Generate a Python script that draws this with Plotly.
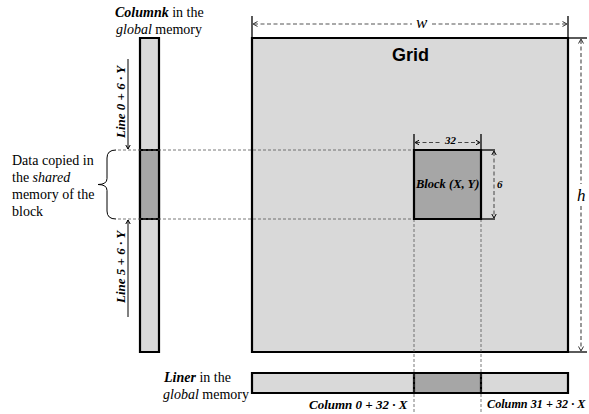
import plotly.graph_objects as go

# ---- diagram geometry (pixel space: x right, y down) ----
grid_box = [252, 38, 568, 352]          # x0, y0, x1, y1
block_box = [414, 150, 481, 219]
column_bar = [140, 38, 159, 352]
row_bar = [252, 373, 568, 393]

grid_fill = "#d9d9d9"
block_fill = "#a6a6a6"

# ---- texts ----
grid_label = "Grid"
block_label = "<b><i>Block (X, Y)</i></b>"
width_label = "w"
height_label = "h"
block_w_label = "32"
block_h_label = "6"
column_title = ["<b><i>Columnk</i></b> in the", "<i>global</i> memory"]
row_title = ["<b><i>Liner</i></b> in the", "<i>global</i> memory"]
shared_text = ["Data copied in", "the <i>shared</i>", "memory of the", "block"]
line_first = "<b><i>Line 0 + 6 · Y</i></b>"
line_last = "<b><i>Line 5 + 6 · Y</i></b>"
col_first = "<b><i>Column 0 + 32 · X</i></b>"
col_last = "<b><i>Column 31 + 32 · X</i></b>"

SERIF = "Liberation Serif"
shapes = []
annotations = []


def rect(b, fill, width=2.2):
    shapes.append(dict(type="rect", x0=b[0], y0=b[1], x1=b[2], y1=b[3],
                       fillcolor=fill, line=dict(color="black", width=width), layer="above"))


def line(x0, y0, x1, y1, color="black", width=1, dash="solid"):
    shapes.append(dict(type="line", x0=x0, y0=y0, x1=x1, y1=y1,
                       line=dict(color=color, width=width, dash=dash), layer="above"))


def head(x, y, d, s=4.5, color="black"):
    w = s * 0.55
    if d == "right":
        p = f"M {x-s},{y-w} L {x},{y} L {x-s},{y+w}"
    elif d == "left":
        p = f"M {x+s},{y-w} L {x},{y} L {x+s},{y+w}"
    elif d == "down":
        p = f"M {x-w},{y-s} L {x},{y} L {x+w},{y-s}"
    else:
        p = f"M {x-w},{y+s} L {x},{y} L {x+w},{y+s}"
    shapes.append(dict(type="path", path=p, line=dict(color=color, width=1), layer="above"))


def text(x, y, t, size=14, family=SERIF, xanchor="center", angle=0, color="black"):
    annotations.append(dict(x=x, y=y, text=t, showarrow=False, xanchor=xanchor,
                            yanchor="middle", textangle=angle, borderpad=0,
                            font=dict(family=family, size=size, color=color)))


# main rectangles
rect(grid_box, grid_fill)
rect(column_bar, grid_fill)
rect(row_bar, grid_fill)
# dark segments
rect([column_bar[0], block_box[1], column_bar[2], block_box[3]], block_fill)
rect([block_box[0], row_bar[1], block_box[2], row_bar[3]], block_fill)

# guide dashed lines (projection of block)
gcol = "#555555"
GD = "3px,2px"
for yy in (block_box[1], block_box[3]):
    line(118, yy, block_box[0], yy, color=gcol, width=0.8, dash=GD)
for xx in (block_box[0], block_box[2]):
    line(xx, block_box[3], xx, 414, color=gcol, width=0.8, dash=GD)

rect(block_box, block_fill)

DD = "4px,2.5px"
# w dimension
line(grid_box[0], 16, grid_box[0], grid_box[1], width=1.3)
line(grid_box[2], 16, grid_box[2], grid_box[1], width=1.3)
line(grid_box[0] + 2, 24, 412, 24, color="#555", width=1.2, dash=DD)
line(432, 24, grid_box[2] - 2, 24, color="#555", width=1.2, dash=DD)
head(grid_box[0] + 1, 24, "left", color="#333")
head(grid_box[2] - 1, 24, "right", color="#333")
text(422, 22, f"<i>{width_label}</i>", size=17)

# h dimension
line(grid_box[2], grid_box[1], 587, grid_box[1], width=1.3)
line(grid_box[2], grid_box[3], 587, grid_box[3], width=1.3)
line(581, grid_box[1] + 2, 581, 184, color="#555", width=1.2, dash=DD)
line(581, 206, 581, grid_box[3] - 2, color="#555", width=1.2, dash=DD)
head(581, grid_box[1] + 1, "up", color="#333")
head(581, grid_box[3] - 1, "down", color="#333")
text(581, 195, f"<i>{height_label}</i>", size=17)

# block dimensions
line(block_box[0], 134, block_box[0], block_box[1], width=1.3)
line(block_box[2], 134, block_box[2], block_box[1], width=1.3)
line(block_box[0] + 2, 142.5, 442, 142.5, color="#444", width=1, dash=DD)
line(458, 142.5, block_box[2] - 2, 142.5, color="#444", width=1, dash=DD)
head(block_box[0] + 1, 142.5, "left", s=4)
head(block_box[2] - 1, 142.5, "right", s=4)
text(450, 140, f"<b><i>{block_w_label}</i></b>", size=11)

line(block_box[2], block_box[1], 495, block_box[1], width=1.3)
line(block_box[2], block_box[3], 495, block_box[3], width=1.3)
line(494, block_box[1] + 2, 494, block_box[3] - 2, color="#444", width=1, dash=DD)
head(494, block_box[1] + 1, "up", s=4)
head(494, block_box[3] - 1, "down", s=4)
text(496, 184, f"<b><i>{block_h_label}</i></b>", size=11, xanchor="left")

# labels
text(410, 55, f"<b>{grid_label}</b>", size=18, family="Liberation Sans")
text(447, 184, block_label, size=12.5)

text(159, 12, column_title[0], size=14)
text(159, 29, column_title[1], size=14)

text(162, 377, row_title[0], size=14, xanchor="left")
text(162, 394, row_title[1], size=14, xanchor="left")

for i, t in enumerate(shared_text):
    text(11, 160 + i * 17, t, size=14, xanchor="left")

# brace
bx, by0, by1 = 107, block_box[1], block_box[3]
ym = (by0 + by1) / 2
brace = (f"M 116,{by0} Q {bx},{by0} {bx},{by0+8} L {bx},{ym-6} "
         f"Q {bx},{ym} {bx-9},{ym} Q {bx},{ym} {bx},{ym+6} "
         f"L {bx},{by1-8} Q {bx},{by1} 116,{by1}")
shapes.append(dict(type="path", path=brace, line=dict(color="black", width=1), layer="above"))

# line arrows
line(128, 59, 128, block_box[1] - 1)
head(128, block_box[1] - 1, "down", s=4)
line(128, 317, 128, block_box[3] + 1)
head(128, block_box[3] + 1, "up", s=4)
text(120, 102, line_first, size=13, angle=-90)
text(120, 267, line_last, size=13, angle=-90)

# column labels
text(409, 404, col_first, size=13, xanchor="right")
text(486, 404, col_last, size=12.2, xanchor="left")

fig = go.Figure()
fig.update_layout(
    width=589, height=414,
    margin=dict(l=0, r=0, t=0, b=0),
    paper_bgcolor="white", plot_bgcolor="white",
    xaxis=dict(range=[0, 589], visible=False, fixedrange=True),
    yaxis=dict(range=[414, 0], visible=False, fixedrange=True),
    shapes=shapes, annotations=annotations, showlegend=False,
)
fig.write_html("out.html", config={"displayModeBar": False},
               post_script="document.body.style.margin='0';document.body.style.overflow='hidden';")
